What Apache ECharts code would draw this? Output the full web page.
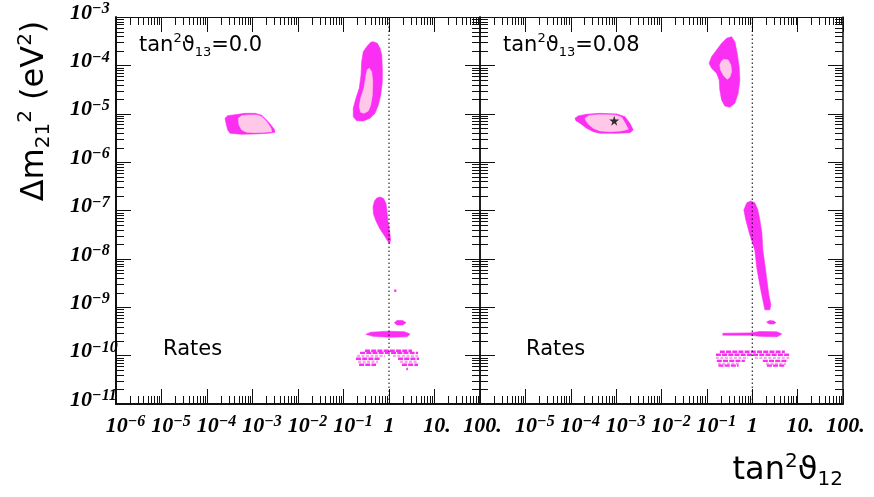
<!DOCTYPE html>
<html><head><meta charset="utf-8">
<script src="https://cdn.jsdelivr.net/npm/echarts@6/dist/echarts.min.js"></script>
<style>html,body{margin:0;padding:0;background:#fff}#c{width:874px;height:497px}</style>
</head><body><div id="c"></div>
<script>
// ---------- tick values / labels ----------
const xTickValues = [1e-6, 1e-5, 1e-4, 1e-3, 1e-2, 1e-1, 1, 10, 100];
const xTickLabelsLeft = [['10','−6'],['10','−5'],['10','−4'],['10','−3'],['10','−2'],['10','−1'],['1',''],['10.',''],['100.','']];
const xTickLabelsRight = [['',''],['10','−5'],['10','−4'],['10','−3'],['10','−2'],['10','−1'],['1',''],['10.',''],['100.','']];
const yTickValues = [1e-11, 1e-10, 1e-9, 1e-8, 1e-7, 1e-6, 1e-5, 1e-4, 1e-3];
const yTickLabels = [['10','−11'],['10','−10'],['10','−9'],['10','−8'],['10','−7'],['10','−6'],['10','−5'],['10','−4'],['10','−3']];

// ---------- left panel (tan^2 theta13 = 0.0) regions: [tan^2 theta12, dm^2] ----------
const lmaOuterLeft = [[2.49e-4,8.07e-6],[2.85e-4,9.14e-6],[4.12e-4,9.57e-6],[6.84e-4,1.02e-5],[1.14e-3,1.02e-5],[1.59e-3,9.31e-6],[2.22e-3,6.87e-6],[3.01e-3,4.79e-6],[3.13e-3,4.15e-6],[2.22e-3,3.95e-6],[1.14e-3,3.83e-6],[5.79e-4,3.77e-6],[3.20e-4,3.95e-6],[2.85e-4,4.62e-6],[2.62e-4,6.37e-6]];
const lmaInnerLeft = [[4.88e-4,8.07e-6],[5.79e-4,9.14e-6],[8.09e-4,9.44e-6],[1.24e-3,9.44e-6],[1.59e-3,8.71e-6],[2.05e-3,6.87e-6],[2.55e-3,5.01e-6],[2.64e-3,4.27e-6],[1.88e-3,4.15e-6],[1.14e-3,4.07e-6],[7.46e-4,4.15e-6],[5.79e-4,4.62e-6],[5.05e-4,5.87e-6]];
const largeOuterLeft = [[0.452,3.09e-4],[0.553,2.86e-4],[0.634,2.25e-4],[0.692,1.64e-4],[0.713,8.71e-5],[0.713,4.60e-5],[0.658,2.44e-5],[0.582,1.52e-5],[0.492,1.02e-5],[0.382,8.07e-6],[0.272,7.10e-6],[0.195,7.19e-6],[0.164,8.71e-6],[0.164,1.30e-5],[0.188,2.09e-5],[0.222,3.37e-5],[0.243,6.34e-5],[0.251,1.19e-4],[0.272,1.92e-4],[0.324,2.43e-4],[0.396,3.00e-4]];
const largeInnerLeft = [[0.369,8.71e-5],[0.417,7.41e-5],[0.439,4.60e-5],[0.430,2.44e-5],[0.396,1.52e-5],[0.351,1.14e-5],[0.282,1.02e-5],[0.239,1.07e-5],[0.222,1.40e-5],[0.239,2.09e-5],[0.282,3.37e-5],[0.313,6.34e-5],[0.333,8.15e-5]];
const lowLeft = [[0.634,1.91e-7],[0.757,1.78e-7],[0.859,1.40e-7],[0.904,9.35e-8],[0.951,5.81e-8],[1.03,3.79e-8],[1.08,2.47e-8],[1.03,2.04e-8],[0.927,2.36e-8],[0.776,3.13e-8],[0.634,4.17e-8],[0.518,6.10e-8],[0.456,8.51e-8],[0.445,1.19e-7],[0.480,1.58e-7],[0.544,1.82e-7]];
const vacBlobLeft = [[1.31,4.8e-10],[1.5,5.3e-10],[2.0,5.3e-10],[2.37,4.8e-10],[2.0,4.3e-10],[1.5,4.3e-10]];
const vacBandLeft = [[0.31,2.75e-10],[0.4,3.05e-10],[1.0,3.2e-10],[2.2,3.1e-10],[2.9,2.8e-10],[2.5,2.45e-10],[1.0,2.4e-10],[0.45,2.5e-10]];
// rows: [x from, x to, dm^2, kind 0=outer 1=inner]
const vacRowsLeft = [[1.30,1.45,2.2e-9,0],[0.297,3.20,1.26e-10,0],[0.231,4.34,1.14e-10,0],[0.198,0.817,9.9e-11,1],[1.22,4.34,9.9e-11,1],[0.188,0.634,8.6e-11,0],[1.58,4.56,8.6e-11,0],[0.209,0.573,7.45e-11,1],[1.75,4.34,7.45e-11,1],[0.220,0.518,6.46e-11,0],[1.93,4.34,6.46e-11,0],[2.4,2.6,5.3e-11,0]];

// ---------- right panel (tan^2 theta13 = 0.08) ----------
const lmaOuterRight = [[1.24e-4,8.07e-6],[1.46e-4,9.02e-6],[2.24e-4,9.77e-6],[4.40e-4,1.02e-5],[1.03e-3,9.91e-6],[1.56e-3,8.71e-6],[2.01e-3,6.37e-6],[2.38e-3,4.62e-6],[2.01e-3,4.07e-6],[1.03e-3,3.95e-6],[4.40e-4,3.95e-6],[3.13e-4,4.27e-6],[2.24e-4,5.01e-6],[1.60e-4,6.37e-6],[1.30e-4,7.19e-6]];
const lmaInnerRight = [[2.06e-4,8.07e-6],[2.65e-4,9.31e-6],[4.40e-4,9.57e-6],[9.42e-4,9.44e-6],[1.32e-3,8.47e-6],[1.56e-3,6.55e-6],[1.85e-3,4.79e-6],[1.32e-3,4.42e-6],[7.29e-4,4.27e-6],[4.40e-4,4.42e-6],[3.13e-4,5.01e-6],[2.43e-4,6.15e-6],[2.16e-4,7.19e-6]];
const largeOuterRight = [[0.350,3.92e-4],[0.414,3.09e-4],[0.465,1.78e-4],[0.514,9.40e-5],[0.533,4.99e-5],[0.489,2.65e-5],[0.414,1.65e-5],[0.321,1.36e-5],[0.249,1.45e-5],[0.211,1.93e-5],[0.193,3.10e-5],[0.187,4.99e-5],[0.164,6.87e-5],[0.127,8.71e-5],[0.112,1.10e-4],[0.127,1.51e-4],[0.164,2.08e-4],[0.211,2.86e-4],[0.272,3.63e-4]];
const largeInnerRight = [[0.237,1.34e-4],[0.294,1.29e-4],[0.338,1.02e-4],[0.350,7.41e-5],[0.321,5.68e-5],[0.280,5.16e-5],[0.237,6.04e-5],[0.200,8.04e-5],[0.193,1.02e-4],[0.211,1.23e-4]];
const lowRight = [[0.931,1.58e-7],[1.14,1.44e-7],[1.33,1.03e-7],[1.47,6.40e-8],[1.63,3.44e-8],[1.71,1.53e-8],[1.90,7.52e-9],[2.10,3.68e-9],[2.32,1.80e-9],[2.57,1.12e-9],[2.44,8.83e-10],[1.90,8.83e-10],[1.71,1.42e-9],[1.47,2.90e-9],[1.26,6.52e-9],[1.14,1.53e-8],[0.885,3.13e-8],[0.723,6.40e-8],[0.653,1.03e-7],[0.760,1.44e-7]];
const vacBlobRight = [[2.07,4.9e-10],[2.4,5.3e-10],[3.0,5.2e-10],[3.31,4.8e-10],[3.0,4.5e-10],[2.4,4.5e-10]];
const vacBandRight = [[0.225,2.9e-10],[0.885,2.95e-10],[1.5,3.15e-10],[3.5,3.1e-10],[4.49,2.8e-10],[3.5,2.45e-10],[1.5,2.5e-10],[0.885,2.65e-10],[0.225,2.65e-10]];
const vacRowsRight = [[0.193,5.22,1.20e-10,0],[0.158,6.73,1.04e-10,0],[0.158,0.80,9.0e-11,1],[1.14,6.73,9.0e-11,1],[0.166,0.687,7.8e-11,0],[1.71,6.08,7.8e-11,0],[0.175,0.533,6.8e-11,1],[2.0,5.5,6.8e-11,1],[0.18,0.5,6.2e-11,0],[2.1,5.4,6.2e-11,0]];
const bestFit = [[9.08e-4, 7.19e-6]];

// ---------- styles ----------
const MAG = '#fb2ef3', PINK = '#ffc8e8', ROWPINK = '#f7a6ee';
const X_MIN = 1e-6, X_MAX = 100, Y_MIN = 1e-11, Y_MAX = 1e-3;
const serif = 'Liberation Serif';
const sans = 'DejaVu Sans';

const minorX = [], minorY = [];
for (let e = -6; e < 2; e++) for (let m = 2; m <= 9; m++) minorX.push(+(m + 'e' + e));
for (let e = -11; e < -3; e++) for (let m = 2; m <= 9; m++) minorY.push(+(m + 'e' + e));

const tickRich = {
  b: {fontFamily: serif, fontWeight: 'bold', fontStyle: 'italic', fontSize: 22, lineHeight: 24, fill: '#000'},
  s: {fontFamily: serif, fontWeight: 'bold', fontStyle: 'italic', fontSize: 16, lineHeight: 16, verticalAlign: 'top', fill: '#000'},
  p: {width: 19, fontSize: 10, lineHeight: 10},
  q: {width: 5, fontSize: 10, lineHeight: 10}
};
function xLabelText(pair) {
  const [b, s] = pair;
  if (!b) return '';
  if (s) return '{p| }{b|' + b + '}{s|' + s + '}';
  if (b.indexOf('.') >= 0) return '{q| }{b|' + b + '}';
  return '{b|' + b + '}';
}
const lineCol = '#111';
function xAx(gi, pos) {
  return {
    type: 'log', logBase: 10, gridIndex: gi, position: pos, min: X_MIN, max: X_MAX,
    axisLine: {show: true, onZero: false, lineStyle: {color: lineCol, width: pos === 'bottom' ? 2 : 1.2}},
    axisTick: {show: true, inside: true, length: 15, customValues: xTickValues, lineStyle: {color: lineCol, width: 1}},
    axisLabel: {show: false},
    splitLine: {show: false}, minorTick: {show: false}
  };
}
function yAx(gi, pos) {
  return {
    type: 'log', logBase: 10, gridIndex: gi, position: pos, min: Y_MIN, max: Y_MAX,
    axisLine: {show: true, onZero: false, lineStyle: {color: lineCol, width: (pos === 'left' && gi === 0) ? 2 : 1.5}},
    axisTick: {show: true, inside: true, length: 15, customValues: yTickValues, lineStyle: {color: lineCol, width: 1}},
    axisLabel: {show: false},
    splitLine: {show: false}, minorTick: {show: false}
  };
}

function polySeries(gi, pts, color) {
  return {
    type: 'custom', xAxisIndex: gi * 2, yAxisIndex: gi * 2, silent: true, z: 3,
    data: pts,
    renderItem: function (p, api) {
      if (p.dataIndex !== 0) return;
      return {type: 'polygon', shape: {points: pts.map(q => api.coord(q))}, style: {fill: color, stroke: color, lineWidth: 0.6}};
    }
  };
}
function rowSeries(gi, rows) {
  return {
    type: 'custom', xAxisIndex: gi * 2, yAxisIndex: gi * 2, silent: true, z: 3,
    data: rows, encode: {x: [0, 1], y: 2},
    renderItem: function (p, api) {
      const a = api.coord([api.value(0), api.value(2)]);
      const b = api.coord([api.value(1), api.value(2)]);
      const inner = api.value(3) === 1;
      return {type: 'line', shape: {x1: a[0], y1: a[1], x2: b[0], y2: b[1]},
        style: {stroke: inner ? ROWPINK : MAG, lineWidth: 2.4, lineDash: inner ? [3, 1.5] : [5, 1.2]}};
    }
  };
}
function minorTickSeries(gi) {
  const data = minorX.map(v => [v, 1e-7, 0]).concat(minorY.map(v => [1e-2, v, 1]));
  return {
    type: 'custom', xAxisIndex: gi * 2, yAxisIndex: gi * 2, silent: true, z: 6, clip: false,
    data: data,
    renderItem: function (p, api) {
      const st = {stroke: lineCol, lineWidth: 1};
      if (api.value(2) === 0) {
        const v = api.value(0);
        const b = api.coord([v, Y_MIN]), t = api.coord([v, Y_MAX]);
        const x = Math.round(b[0]) + 0.5;
        return {type: 'group', children: [
          {type: 'line', shape: {x1: x, y1: b[1], x2: x, y2: b[1] - 8}, style: st},
          {type: 'line', shape: {x1: x, y1: t[1], x2: x, y2: t[1] + 8}, style: st}
        ]};
      } else {
        const v = api.value(1);
        const l = api.coord([X_MIN, v]), r = api.coord([X_MAX, v]);
        const y = Math.round(l[1]) + 0.5;
        return {type: 'group', children: [
          {type: 'line', shape: {x1: l[0], y1: y, x2: l[0] + 8, y2: y}, style: st},
          {type: 'line', shape: {x1: r[0], y1: y, x2: r[0] - 8, y2: y}, style: st}
        ]};
      }
    }
  };
}
// tick labels drawn through the axes' scales
function xLabelSeries(gi, labels) {
  return {
    type: 'custom', xAxisIndex: gi * 2, yAxisIndex: gi * 2, silent: true, z: 8, clip: false,
    data: xTickValues.map((v, i) => [v, 1e-7, i]),
    renderItem: function (p, api) {
      const c = api.coord([api.value(0), Y_MIN]);
      const t = xLabelText(labels[api.value(2)]);
      if (!t) return;
      return {type: 'text', x: c[0], y: c[1] + 10, style: {text: t, rich: tickRich, align: 'center', verticalAlign: 'top'}};
    }
  };
}
function yLabelSeries() {
  return {
    type: 'custom', xAxisIndex: 0, yAxisIndex: 0, silent: true, z: 8, clip: false,
    data: yTickValues.map((v, i) => [1e-2, v, i]),
    renderItem: function (p, api) {
      const c = api.coord([X_MIN, api.value(1)]);
      const lab = yTickLabels[api.value(2)];
      return {type: 'text', x: c[0] - 46, y: c[1] - 4, style: {text: '{b|' + lab[0] + '}{s|' + lab[1] + '}', rich: tickRich, align: 'left', verticalAlign: 'middle'}};
    }
  };
}
function dottedLine(gi) {
  return {
    type: 'line', xAxisIndex: gi * 2, yAxisIndex: gi * 2, silent: true, z: 5,
    data: [[1, Y_MIN], [1, Y_MAX]], showSymbol: false, symbol: 'none',
    lineStyle: {color: '#000', width: 1, type: [1.5, 2.5]}
  };
}

const series = [
  polySeries(0, lmaOuterLeft, MAG), polySeries(0, lmaInnerLeft, PINK),
  polySeries(0, largeOuterLeft, MAG), polySeries(0, largeInnerLeft, PINK),
  polySeries(0, lowLeft, MAG), polySeries(0, vacBlobLeft, MAG), polySeries(0, vacBandLeft, MAG),
  rowSeries(0, vacRowsLeft),
  polySeries(1, lmaOuterRight, MAG), polySeries(1, lmaInnerRight, PINK),
  polySeries(1, largeOuterRight, MAG), polySeries(1, largeInnerRight, PINK),
  polySeries(1, lowRight, MAG), polySeries(1, vacBlobRight, MAG), polySeries(1, vacBandRight, MAG),
  rowSeries(1, vacRowsRight),
  dottedLine(0), dottedLine(1),
  minorTickSeries(0), minorTickSeries(1),
  xLabelSeries(0, xTickLabelsLeft), xLabelSeries(1, xTickLabelsRight), yLabelSeries(),
  {
    type: 'scatter', xAxisIndex: 2, yAxisIndex: 2, silent: true, z: 7, data: bestFit,
    symbol: 'path://M50,0 L61,35 L98,35 L68,57 L79,91 L50,70 L21,91 L32,57 L2,35 L39,35 Z',
    symbolSize: 10, itemStyle: {color: '#000'}
  }
];

const txtRich = (size, weight) => ({
  a: {fontFamily: sans, fontWeight: weight, fontSize: size, lineHeight: size + 6, color: '#000'},
  sup: {fontFamily: sans, fontWeight: weight, fontSize: Math.round(size * 0.62), lineHeight: Math.round(size * 0.62), verticalAlign: 'top', color: '#000'},
  sub: {fontFamily: sans, fontWeight: weight, fontSize: Math.round(size * 0.62), lineHeight: Math.round(size * 0.62), verticalAlign: 'bottom', color: '#000'}
});

const option = {
  animation: false,
  backgroundColor: '#fff',
  grid: [
    {left: 116, top: 17, width: 364, height: 387, containLabel: false},
    {left: 480, top: 17, width: 363, height: 387, containLabel: false}
  ],
  xAxis: [xAx(0, 'bottom'), xAx(0, 'top'), xAx(1, 'bottom'), xAx(1, 'top')],
  yAxis: [yAx(0, 'left'), yAx(0, 'right'), yAx(1, 'left'), yAx(1, 'right')],
  series: series,
  graphic: [
    {type: 'text', x: 35, y: 111, rotation: Math.PI / 2, silent: true,
     style: {text: '{a|Δm}{sub|21}{sup|2}{a| (eV}{sup|2}{a|)}', rich: txtRich(32, 'normal'), align: 'center', verticalAlign: 'middle'}},
    {type: 'text', x: 843, y: 471, silent: true,
     style: {text: '{a|tan}{sup|2}{a|ϑ}{sub|12}', rich: txtRich(32, 'normal'), align: 'right', verticalAlign: 'middle'}},
    {type: 'text', x: 139, y: 46, silent: true,
     style: {text: '{a|tan}{sup|2}{a|ϑ}{sub|13}{a|=0.0}', rich: txtRich(21, 'normal'), align: 'left', verticalAlign: 'middle'}},
    {type: 'text', x: 503, y: 46, silent: true,
     style: {text: '{a|tan}{sup|2}{a|ϑ}{sub|13}{a|=0.08}', rich: txtRich(21, 'normal'), align: 'left', verticalAlign: 'middle'}},
    {type: 'text', x: 163, y: 350, silent: true,
     style: {text: 'Rates', fontFamily: sans, fontSize: 21, fill: '#000', align: 'left', verticalAlign: 'middle'}},
    {type: 'text', x: 526, y: 350, silent: true,
     style: {text: 'Rates', fontFamily: sans, fontSize: 21, fill: '#000', align: 'left', verticalAlign: 'middle'}}
  ]
};
const chart = echarts.init(document.getElementById('c'), null, {renderer: 'canvas'});
chart.setOption(option);
</script></body></html>
